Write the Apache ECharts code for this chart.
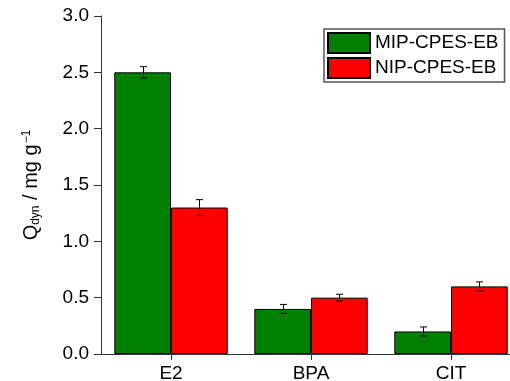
<!DOCTYPE html>
<html><head><meta charset="utf-8">
<script src="https://cdn.jsdelivr.net/npm/echarts@6/dist/echarts.min.js"></script>
<style>html,body{margin:0;padding:0;background:#fff}#c{width:510px;height:381px}</style>
</head><body><div id="c"></div>
<script>
const categories = ['E2', 'BPA', 'CIT'];
const mipValues = [2.5, 0.4, 0.2];
const mipErrors = [0.05, 0.04, 0.04];
const nipValues = [1.3, 0.5, 0.6];
const nipErrors = [0.07, 0.03, 0.04];
const yTicks = [0, 0.5, 1.0, 1.5, 2.0, 2.5, 3.0];
const seriesNames = ['MIP-CPES-EB', 'NIP-CPES-EB'];

const FONT = '"Liberation Sans", Arial, sans-serif';
const catGap = 0.19;

function errSeries(vals, errs, side) {
  return {
    type: 'custom',
    silent: true,
    z: 10,
    data: vals.map((v, i) => [i, v, errs[i]]),
    renderItem: function (params, api) {
      const i = api.value(0), v = api.value(1), e = api.value(2);
      const band = api.size([1, 0])[0];
      const bw = band * (1 - catGap) / 2;
      const c = api.coord([i, v]);
      const x = Math.round(c[0] + side * bw / 2) + 0.5;
      const yHi = api.coord([i, v + e])[1];
      const yLo = api.coord([i, v - e])[1];
      const cap = 3.5;
      const st = { stroke: '#000', lineWidth: 1 };
      return { type: 'group', children: [
        { type: 'line', shape: { x1: x, y1: yHi, x2: x, y2: yLo }, style: st },
        { type: 'line', shape: { x1: x - cap, y1: yHi, x2: x + cap, y2: yHi }, style: st },
        { type: 'line', shape: { x1: x - cap, y1: yLo, x2: x + cap, y2: yLo }, style: st }
      ]};
    }
  };
}

const chart = echarts.init(document.getElementById('c'), null, { renderer: 'canvas' });
chart.setOption({
  animation: false,
  backgroundColor: '#fff',
  textStyle: { fontFamily: FONT },
  grid: { left: 101, width: 420, top: 16, bottom: 27, containLabel: false, outerBoundsMode: 'none' },
  legend: {
    data: seriesNames,
    orient: 'vertical',
    left: 324, top: 29,
    itemWidth: 42, itemHeight: 20, itemGap: 3,
    padding: [3, 6, 3, 3],
    borderColor: '#555', borderWidth: 1.5,
    icon: 'rect',
    textStyle: { fontFamily: FONT, fontSize: 19, color: '#000', width: 126 }
  },
  xAxis: {
    type: 'category',
    data: categories,
    axisLine: { lineStyle: { color: '#333', width: 1 } },
    axisTick: { show: true, alignWithLabel: true, length: 6, lineStyle: { color: '#333' } },
    axisLabel: { fontFamily: FONT, fontSize: 19, color: '#000', margin: 10 }
  },
  yAxis: {
    type: 'value',
    min: yTicks[0], max: yTicks[yTicks.length - 1], interval: 0.5,
    splitLine: { show: false },
    axisLine: { show: true, lineStyle: { color: '#333', width: 1 } },
    axisTick: { show: true, length: 7, lineStyle: { color: '#333' } },
    axisLabel: { fontFamily: FONT, fontSize: 19, color: '#000', margin: 12,
      formatter: v => v.toFixed(1) },
    name: '{q|Q}{sub|dyn}{q| / mg g}{sup|−1}',
    nameLocation: 'middle',
    nameRotate: 90,
    nameGap: 59,
    nameTextStyle: {
      fontFamily: FONT, color: '#000',
      rich: {
        q: { fontSize: 20, fontFamily: FONT, color: '#000' },
        sub: { fontSize: 12, fontFamily: FONT, color: '#000', padding: [8, 0, 0, 0] },
        sup: { fontSize: 12, fontFamily: FONT, color: '#000', padding: [0, 0, 9, 1] }
      }
    }
  },
  series: [
    { name: seriesNames[0], type: 'bar', data: mipValues, barGap: '0%', barCategoryGap: (catGap * 100) + '%',
      itemStyle: { color: '#008000', borderColor: '#000', borderWidth: 1 } },
    { name: seriesNames[1], type: 'bar', data: nipValues, barGap: '0%', barCategoryGap: (catGap * 100) + '%',
      itemStyle: { color: '#ff0000', borderColor: '#000', borderWidth: 1 } },
    errSeries(mipValues, mipErrors, -1),
    errSeries(nipValues, nipErrors, 1)
  ]
});
</script></body></html>
